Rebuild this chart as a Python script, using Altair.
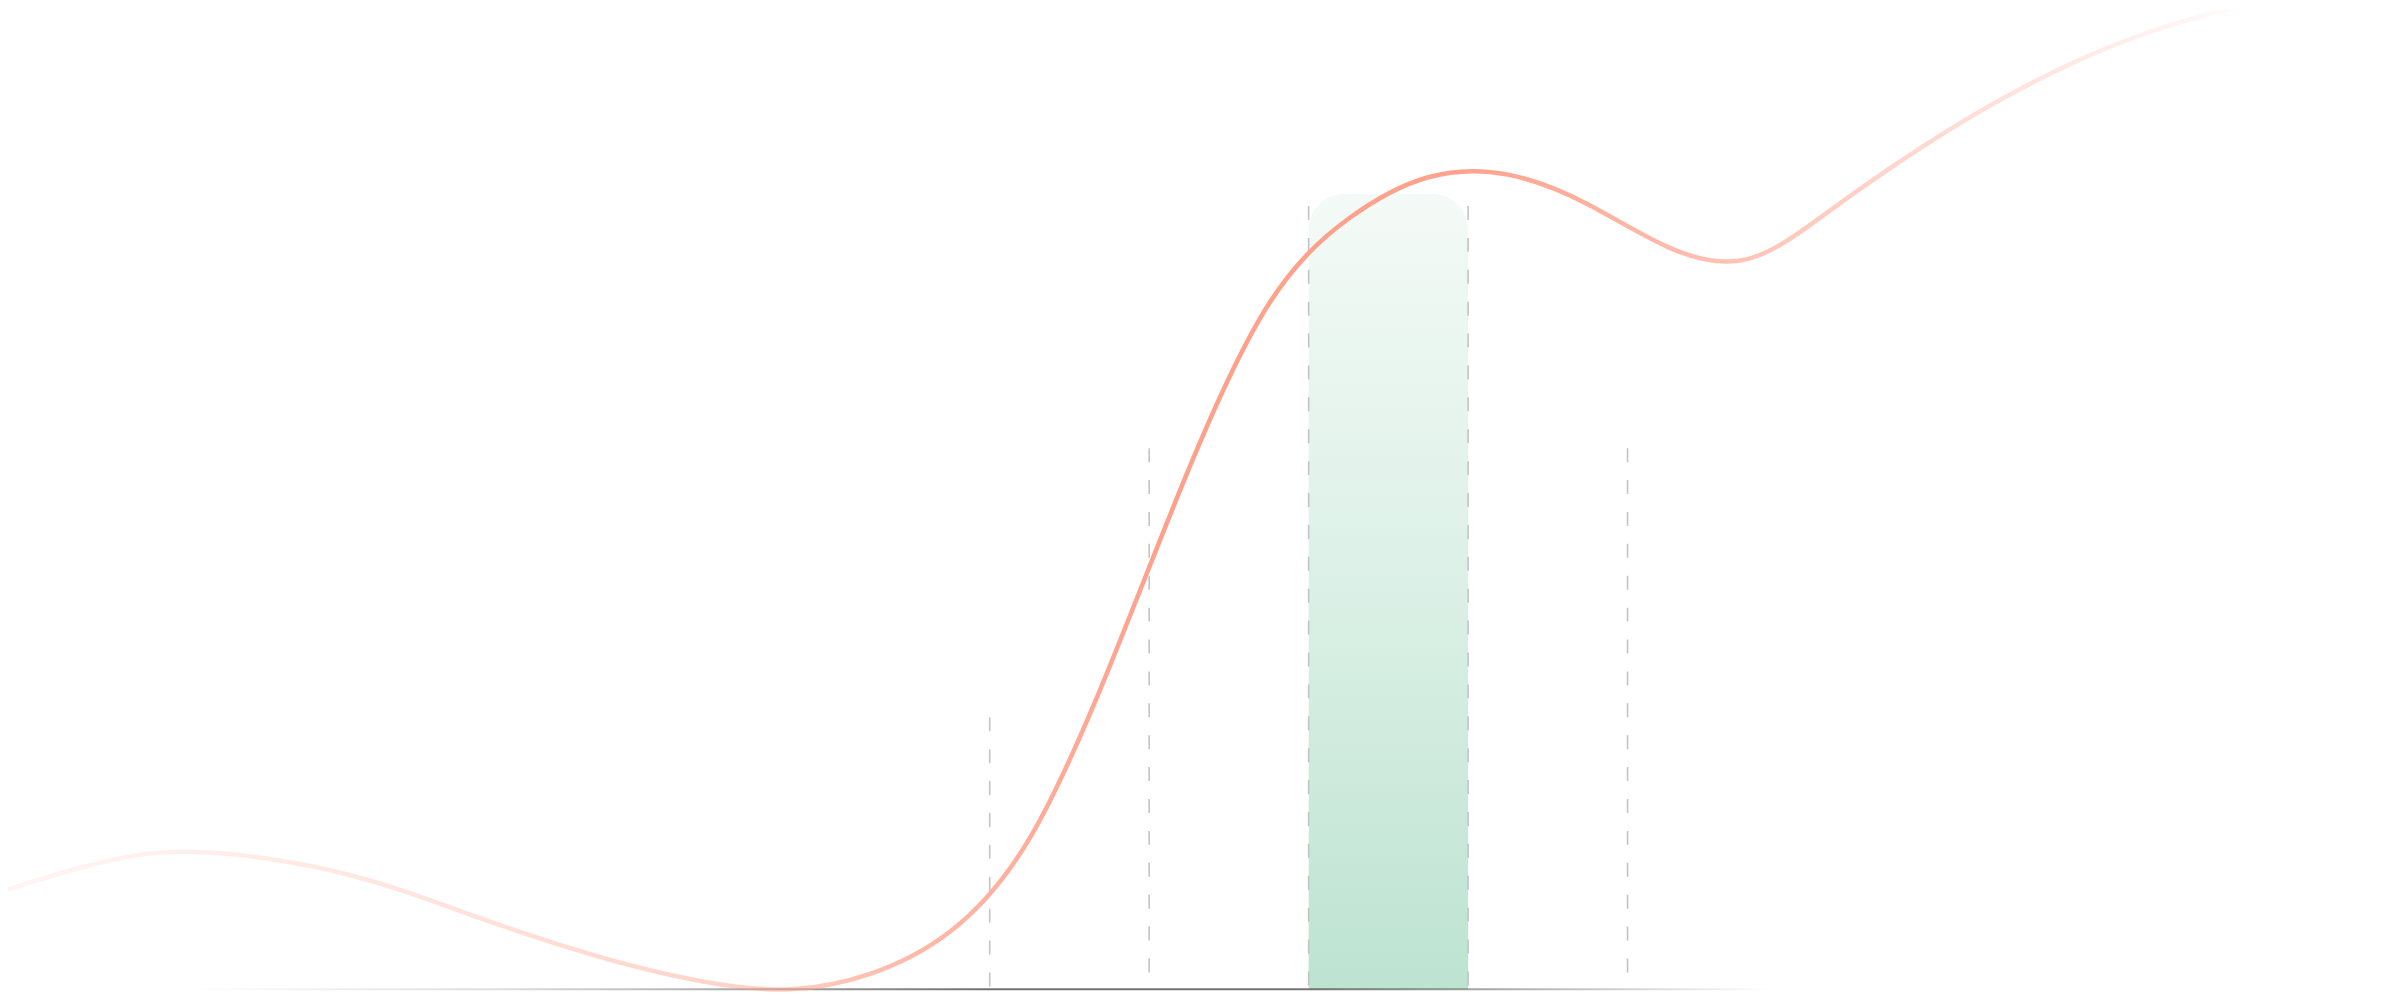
import altair as alt
import pandas as pd

# ---- data (x in column units: dashed guides sit at 6..10; y in value units, baseline = 0)
curve_x = [-0.25, 0.25, 0.75, 1.25, 1.75, 2.25, 2.75, 3.25, 3.75, 4.25,
           4.75, 5.25, 5.75, 6.25, 6.75, 7.25, 7.75, 8.25, 8.75, 9.25,
           9.75, 10.25, 10.75, 11.25, 11.75, 12.25, 12.75, 13.25, 13.75, 14.25]
curve_y = [9.55, 12.1, 14.05, 13.7, 12.5, 10.4, 7.4, 4.7, 2.3, 0.5,
           -0.4, 1.2, 5.0, 13.5, 31.9, 52.8, 70.5, 77.8, 82.2, 82.3,
           79.1, 74.0, 71.9, 78.0, 83.6, 88.6, 92.8, 96.1, 98.4, 99.9]

guide_x = [6, 7, 8, 9, 10]
guide_top = [27.3, 54.3, 78.6, 78.6, 54.3]

bar_start = [8]
bar_end = [9]
bar_top = [79.8]

base_start = [1.01]
base_end = [10.88]

curve_df = pd.DataFrame({"x": curve_x, "y": curve_y})
guide_df = pd.DataFrame({"x": guide_x, "top": guide_top})
bar_df = pd.DataFrame({"x": bar_start, "x2": bar_end, "top": bar_top, "bottom": [0]})
base_df = pd.DataFrame({"x": base_start, "x2": base_end, "y": [-0.1], "y2": [0.1]})

xs = alt.Scale(domain=[-0.15625, 14.79375], nice=False, zero=False)
ys = alt.Scale(domain=[-0.9, 98.3], nice=False, zero=False)


def stops(rgb, pairs):
    return [alt.GradientStop(color=f"rgba({rgb[0]},{rgb[1]},{rgb[2]},{a})", offset=o) for o, a in pairs]


bar = alt.Chart(bar_df).mark_bar(
    cornerRadiusTopLeft=36, cornerRadiusTopRight=36,
    fill=alt.Gradient(gradient="linear", x1=0, y1=0, x2=0, y2=1, stops=[
        alt.GradientStop(color="#F4FAF7", offset=0),
        alt.GradientStop(color="#DBF0E6", offset=0.5),
        alt.GradientStop(color="#BDE3D1", offset=1),
    ]),
).encode(
    x=alt.X("x:Q", scale=xs, axis=None),
    x2="x2:Q",
    y=alt.Y("top:Q", scale=ys, axis=None),
    y2="bottom:Q",
)

base = alt.Chart(base_df).mark_rect(
    fill=alt.Gradient(gradient="linear", x1=0, y1=0, x2=1, y2=0,
                      stops=stops((80, 80, 80), [(0, 0), (0.2, 0.2), (0.38, 0.55), (0.5, 0.8),
                                                 (0.7, 0.8), (0.84, 0.45), (1, 0)])),
).encode(
    x=alt.X("x:Q", scale=xs, axis=None),
    x2="x2:Q",
    y=alt.Y("y:Q", scale=ys, axis=None),
    y2="y2:Q",
)

guides = alt.Chart(guide_df).mark_rule(
    stroke="#C4C4C4", strokeWidth=1.6, strokeDash=[14, 18]
).encode(
    x=alt.X("x:Q", scale=xs, axis=None),
    y=alt.Y("top:Q", scale=ys, axis=None),
    y2=alt.datum(0),
)

curve = alt.Chart(curve_df).mark_line(
    interpolate="basis", strokeWidth=4.5, clip=True,
    stroke=alt.Gradient(gradient="linear", x1=0, y1=0, x2=1, y2=0,
                        stops=stops((255, 160, 138), [(0, 0.1), (0.082, 0.16), (0.223, 0.32), (0.342, 0.5),
                                                      (0.391, 0.72), (0.506, 1.0), (0.642, 0.97), (0.747, 0.65),
                                                      (0.852, 0.36), (0.93, 0.15), (0.973, 0.03), (1, 0)])),
).encode(
    x=alt.X("x:Q", scale=xs, axis=None),
    y=alt.Y("y:Q", scale=ys, axis=None),
    order=alt.Order("x:Q"),
)

chart = alt.layer(bar, base, guides, curve).properties(
    width=2392, height=992, padding=0, autosize=alt.AutoSizeParams(type="none"),
    background="white",
).configure_view(stroke=None)

chart.save("out.html", embed_options={"renderer": "svg", "actions": False})
